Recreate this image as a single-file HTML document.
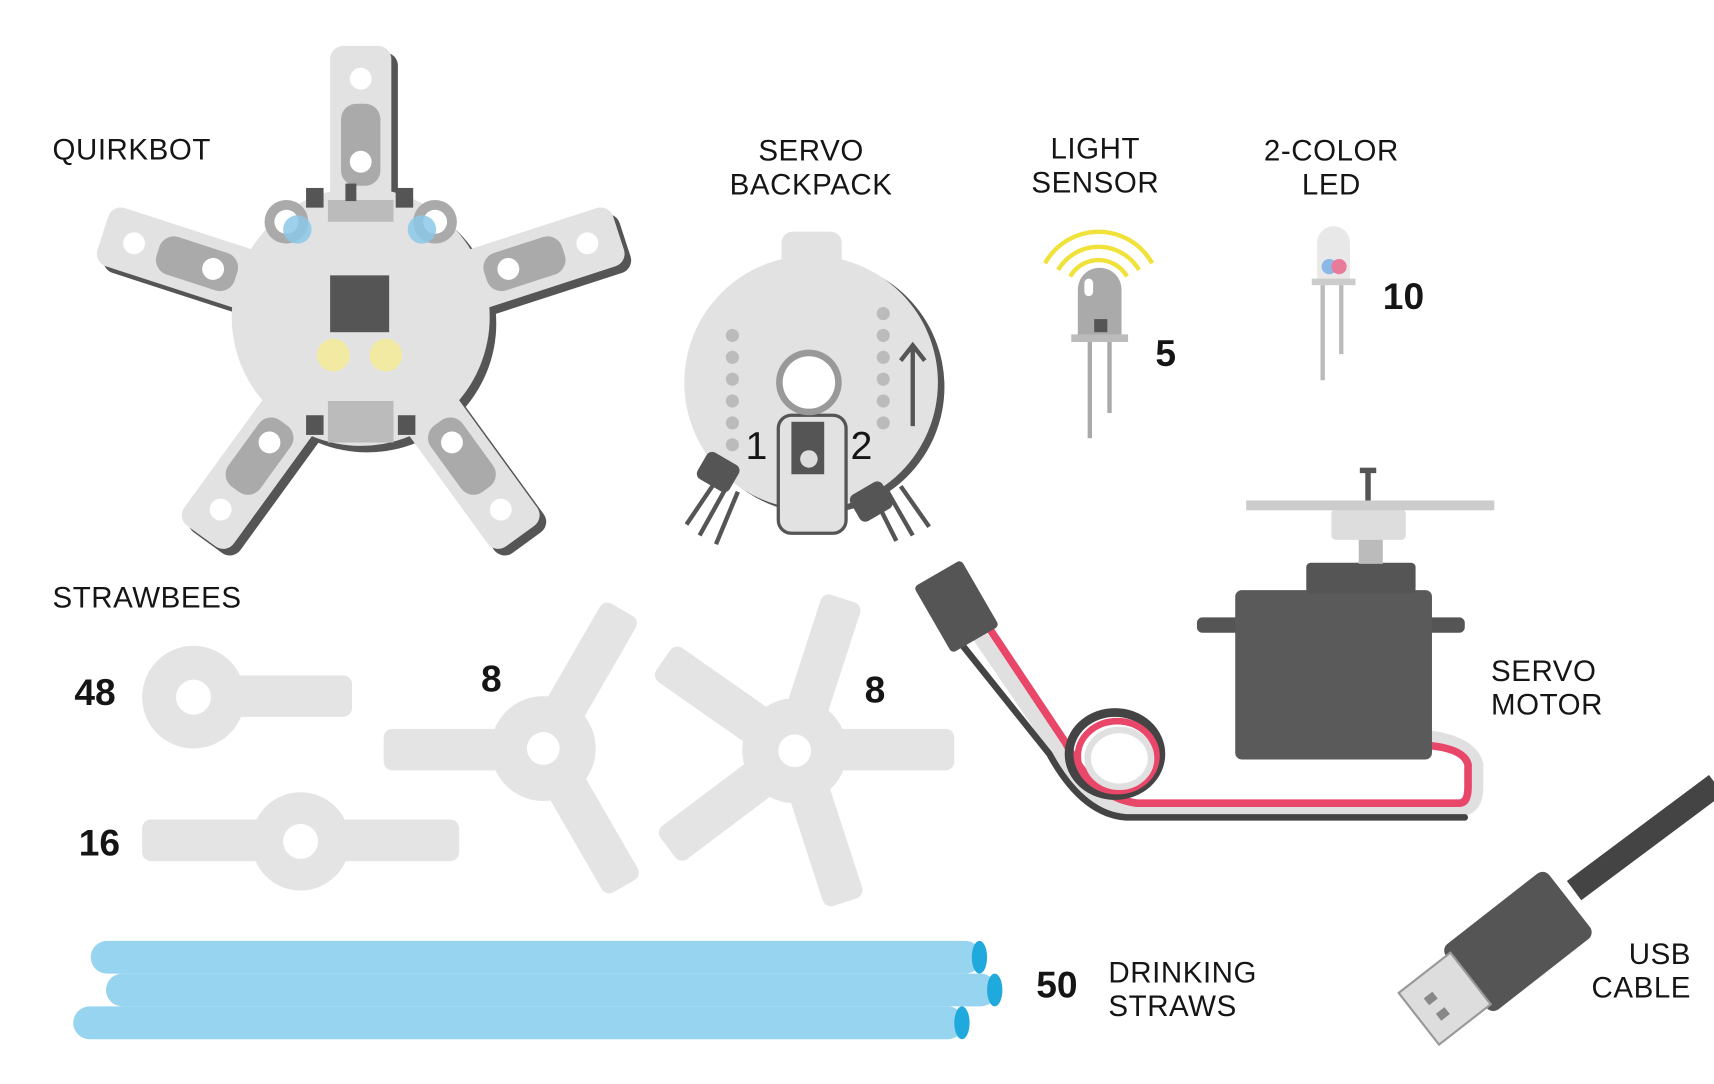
<!DOCTYPE html>
<html><head><meta charset="utf-8"><style>
html,body{margin:0;padding:0;background:#fff;}
svg{display:block}
text{font-family:"Liberation Sans",sans-serif;fill:#151515;}
.lbl{font-size:27px;letter-spacing:0.5px}
.num{font-size:34px;font-weight:bold}
</style></head><body>
<svg width="1714" height="1084" viewBox="0 0 1568 992" preserveAspectRatio="none">
<!-- QUIRKBOT -->
<g>
 <g fill="#555" transform="translate(6,6)">
  <circle cx="330" cy="290" r="118"/>
  <rect x="302" y="42" width="56" height="220" rx="12" transform="rotate(0 330 290)"/>
  <rect x="302" y="42" width="56" height="220" rx="12" transform="rotate(-72 330 290)"/>
  <rect x="302" y="42" width="56" height="220" rx="12" transform="rotate(72 330 290)"/>
  <rect x="302" y="42" width="56" height="220" rx="12" transform="rotate(-144 330 290)"/>
  <rect x="302" y="42" width="56" height="220" rx="12" transform="rotate(144 330 290)"/>
 </g>
 <g fill="#e2e2e2">
  <circle cx="330" cy="290" r="118"/>
  <rect x="302" y="42" width="56" height="220" rx="12" transform="rotate(0 330 290)"/>
  <rect x="302" y="42" width="56" height="220" rx="12" transform="rotate(-72 330 290)"/>
  <rect x="302" y="42" width="56" height="220" rx="12" transform="rotate(72 330 290)"/>
  <rect x="302" y="42" width="56" height="220" rx="12" transform="rotate(-144 330 290)"/>
  <rect x="302" y="42" width="56" height="220" rx="12" transform="rotate(144 330 290)"/>
 </g>
 <g>
  <g transform="rotate(0 330 290)"><rect x="312" y="95" width="36" height="75" rx="14" fill="#aaa"/><circle cx="330" cy="72" r="10" fill="#fff"/><circle cx="330" cy="148" r="10" fill="#fff"/></g>
  <g transform="rotate(-72 330 290)"><rect x="312" y="95" width="36" height="75" rx="14" fill="#aaa"/><circle cx="330" cy="72" r="10" fill="#fff"/><circle cx="330" cy="148" r="10" fill="#fff"/></g>
  <g transform="rotate(72 330 290)"><rect x="312" y="95" width="36" height="75" rx="14" fill="#aaa"/><circle cx="330" cy="72" r="10" fill="#fff"/><circle cx="330" cy="148" r="10" fill="#fff"/></g>
  <g transform="rotate(-144 330 290)"><rect x="312" y="95" width="36" height="75" rx="14" fill="#aaa"/><circle cx="330" cy="72" r="10" fill="#fff"/><circle cx="330" cy="148" r="10" fill="#fff"/></g>
  <g transform="rotate(144 330 290)"><rect x="312" y="95" width="36" height="75" rx="14" fill="#aaa"/><circle cx="330" cy="72" r="10" fill="#fff"/><circle cx="330" cy="148" r="10" fill="#fff"/></g>
 </g>
 <circle cx="262" cy="203" r="20" fill="#aaa"/><circle cx="262" cy="203" r="11" fill="#fff"/><circle cx="272" cy="210" r="13" fill="#8cc8e8" opacity="0.85"/>
 <circle cx="398" cy="203" r="20" fill="#aaa"/><circle cx="398" cy="203" r="11" fill="#fff"/><circle cx="386" cy="210" r="13" fill="#8cc8e8" opacity="0.85"/>
 <rect x="300" y="183" width="60" height="20" fill="#bbb"/><rect x="280" y="172" width="16" height="18" fill="#555"/><rect x="362" y="172" width="16" height="18" fill="#555"/><rect x="316" y="168" width="10" height="16" fill="#555"/>
 <rect x="302" y="252" width="54" height="52" fill="#555"/>
 <circle cx="305" cy="325" r="15" fill="#f2eaa2"/><circle cx="353" cy="325" r="15" fill="#f2eaa2"/>
 <rect x="300" y="367" width="60" height="38" fill="#bbb"/><rect x="280" y="380" width="16" height="18" fill="#555"/><rect x="364" y="380" width="16" height="18" fill="#555"/>
</g>
<text class="lbl" x="48" y="146">QUIRKBOT</text>

<!-- SERVO BACKPACK -->
<g>
 <circle cx="748" cy="354" r="116" fill="#555"/>
 <circle cx="742" cy="350" r="116" fill="#e2e2e2"/>
 <rect x="715" y="212" width="55" height="70" rx="10" fill="#e2e2e2"/>
 <rect x="712" y="380" width="62" height="108" rx="12" fill="#e2e2e2" stroke="#555" stroke-width="3"/>
 <circle cx="740" cy="350" r="30" fill="#999"/><circle cx="740" cy="350" r="24" fill="#fff"/>
 <g fill="#bbb">
  <circle cx="670" cy="307" r="6"/><circle cx="670" cy="327" r="6"/><circle cx="670" cy="347" r="6"/><circle cx="670" cy="367" r="6"/><circle cx="670" cy="387" r="6"/><circle cx="670" cy="407" r="6"/>
  <circle cx="808" cy="287" r="6"/><circle cx="808" cy="307" r="6"/><circle cx="808" cy="327" r="6"/><circle cx="808" cy="347" r="6"/><circle cx="808" cy="367" r="6"/><circle cx="808" cy="387" r="6"/>
 </g>
 <path d="M835 390 V318 M824 330 L835 316 L846 330" stroke="#555" stroke-width="4" fill="none"/>
 <rect x="724" y="386" width="30" height="48" fill="#555"/><circle cx="740" cy="420" r="8" fill="#ddd"/>
 <g stroke="#555" stroke-width="4"><path d="M655 440 L628 480 M665 445 L640 490 M675 450 L655 498"/><path d="M800 455 L820 495 M812 450 L835 490 M824 445 L850 482"/></g>
 <rect x="640" y="418" width="34" height="28" rx="6" fill="#555" transform="rotate(30 657 432)"/>
 <rect x="780" y="445" width="34" height="28" rx="6" fill="#555" transform="rotate(-30 797 459)"/>
 <text x="682" y="420" style="font-size:36px" fill="#555">1</text>
 <text x="778" y="420" style="font-size:36px" fill="#555">2</text>
</g>
<text class="lbl" x="742" y="147" text-anchor="middle">SERVO</text>
<text class="lbl" x="742" y="178" text-anchor="middle">BACKPACK</text>

<!-- LIGHT SENSOR -->
<g>
 <g fill="none" stroke="#f0e23a" stroke-width="4">
  <path d="M979 253 A30 30 0 0 1 1031 253"/>
  <path d="M968 247 A43 43 0 0 1 1042 247"/>
  <path d="M956 241 A56 56 0 0 1 1054 241"/>
 </g>
 <path d="M986 308 V265 a20 20 0 0 1 40 0 V308 Z" fill="#aaa"/>
 <rect x="980" y="306" width="52" height="7" fill="#bbb"/>
 <rect x="992" y="255" width="8" height="16" rx="4" fill="#fff"/><rect x="1001" y="292" width="12" height="12" fill="#555"/>
 <rect x="995" y="313" width="4" height="88" fill="#aaa"/><rect x="1013" y="313" width="4" height="65" fill="#aaa"/>
</g>
<text class="lbl" x="1002" y="145" text-anchor="middle">LIGHT</text>
<text class="lbl" x="1002" y="176" text-anchor="middle">SENSOR</text>
<text class="num" x="1057" y="335">5</text>

<!-- LED -->
<g>
 <path d="M1205 257 V222 a15 15 0 0 1 30 0 V257 Z" fill="#e8e8e8"/>
 <rect x="1200" y="255" width="40" height="6" fill="#ccc"/>
 <circle cx="1216" cy="244" r="7" fill="#8cb8e8"/><circle cx="1225" cy="244" r="7" fill="#e87a9a"/>
 <rect x="1208" y="261" width="4" height="87" fill="#bbb"/><rect x="1225" y="261" width="4" height="63" fill="#bbb"/>
</g>
<text class="lbl" x="1218" y="147" text-anchor="middle">2-COLOR</text>
<text class="lbl" x="1218" y="178" text-anchor="middle">LED</text>
<text class="num" x="1265" y="283">10</text>

<!-- SERVO MOTOR -->
<g>
 <g fill="none" stroke-linecap="round">
  <path d="M895 580 L970 690 Q990 735 1030 740 H1335 Q1350 740 1350 720 V700 Q1345 680 1305 675" stroke="#e0e0e0" stroke-width="14"/>
  <path d="M905 575 L975 680 Q1000 730 1040 735 H1335 Q1343 735 1343 720 V700 Q1340 685 1305 682" stroke="#e8476a" stroke-width="7"/>
  <path d="M880 590 L960 690 Q990 745 1030 748 H1340" stroke="#444" stroke-width="6"/>
  <ellipse cx="1020" cy="690" rx="42" ry="38" stroke="#444" stroke-width="8"/>
  <ellipse cx="1022" cy="692" rx="36" ry="32" stroke="#e8476a" stroke-width="6"/>
  <ellipse cx="1024" cy="694" rx="29" ry="26" stroke="#e0e0e0" stroke-width="6"/>
 </g>
 <rect x="850" y="520" width="50" height="70" rx="4" fill="#555" transform="rotate(-30 875 555)"/>
 <rect x="1095" y="565" width="245" height="14" rx="5" fill="#555"/>
 <rect x="1130" y="540" width="180" height="155" rx="6" fill="#5a5a5a"/>
 <rect x="1195" y="515" width="100" height="28" rx="4" fill="#555"/>
 <rect x="1243" y="492" width="22" height="24" fill="#bbb"/>
 <rect x="1218" y="466" width="68" height="28" rx="4" fill="#ddd"/>
 <rect x="1140" y="458" width="227" height="9" fill="#ccc"/>
 <rect x="1249" y="430" width="5" height="28" fill="#555"/><rect x="1244" y="428" width="15" height="5" fill="#555"/>
</g>
<text class="lbl" x="1364" y="623">SERVO</text>
<text class="lbl" x="1364" y="654">MOTOR</text>

<!-- STRAWBEES -->
<text class="lbl" x="48" y="556">STRAWBEES</text>
<g fill="#e4e4e4">
 <circle cx="177" cy="638" r="47"/><rect x="170" y="618" width="152" height="38" rx="8"/>
 <circle cx="177" cy="638" r="16" fill="#fff"/>
 <circle cx="275" cy="770" r="45"/><rect x="130" y="750" width="290" height="38" rx="8"/>
 <circle cx="275" cy="770" r="16" fill="#fff"/>
 <g transform="translate(497,685)">
  <circle r="48"/>
  <rect x="-146" y="-18" width="146" height="38" rx="8"/>
  <rect x="-146" y="-18" width="146" height="38" rx="8" transform="rotate(120)"/>
  <rect x="-146" y="-18" width="146" height="38" rx="8" transform="rotate(240)"/>
  <circle r="15" fill="#fff"/>
 </g>
 <g transform="translate(727,687)">
  <circle r="48"/>
  <rect x="-146" y="-18" width="146" height="38" rx="8" transform="rotate(180)"/>
  <rect x="-146" y="-18" width="146" height="38" rx="8" transform="rotate(108)"/>
  <rect x="-146" y="-18" width="146" height="38" rx="8" transform="rotate(35)"/>
  <rect x="-146" y="-18" width="146" height="38" rx="8" transform="rotate(-37)"/>
  <rect x="-146" y="-18" width="146" height="38" rx="8" transform="rotate(-108)"/>
  <circle r="15" fill="#fff"/>
 </g>
</g>
<text class="num" x="68" y="645">48</text>
<text class="num" x="72" y="783">16</text>
<text class="num" x="440" y="633">8</text>
<text class="num" x="791" y="643">8</text>

<!-- STRAWS -->
<g>
 <rect x="83" y="861" width="815" height="30" rx="15" fill="#97d4ef"/><ellipse cx="896" cy="876" rx="7" ry="15" fill="#1fa9dc"/>
 <rect x="97" y="891" width="815" height="30" rx="15" fill="#97d4ef"/><ellipse cx="910" cy="906" rx="7" ry="15" fill="#1fa9dc"/>
 <rect x="67" y="921" width="815" height="30" rx="15" fill="#97d4ef"/><ellipse cx="880" cy="936" rx="7" ry="15" fill="#1fa9dc"/>
</g>
<text class="num" x="948" y="913">50</text>
<text class="lbl" x="1014" y="899">DRINKING</text>
<text class="lbl" x="1014" y="930">STRAWS</text>

<!-- USB -->
<g>
 <path d="M1570 718 L1440 815" stroke="#444" stroke-width="22"/>
 <g transform="translate(1365,880) rotate(-38)">
  <rect x="-30" y="-38" width="120" height="76" rx="8" fill="#555"/>
  <rect x="-85" y="-30" width="60" height="60" fill="#ddd" stroke="#999" stroke-width="2"/>
  <rect x="-70" y="-12" width="10" height="8" fill="#888"/><rect x="-70" y="6" width="10" height="8" fill="#888"/>
 </g>
</g>
<text class="lbl" x="1547" y="882" text-anchor="end">USB</text>
<text class="lbl" x="1547" y="913" text-anchor="end">CABLE</text>
</svg>
</body></html>
